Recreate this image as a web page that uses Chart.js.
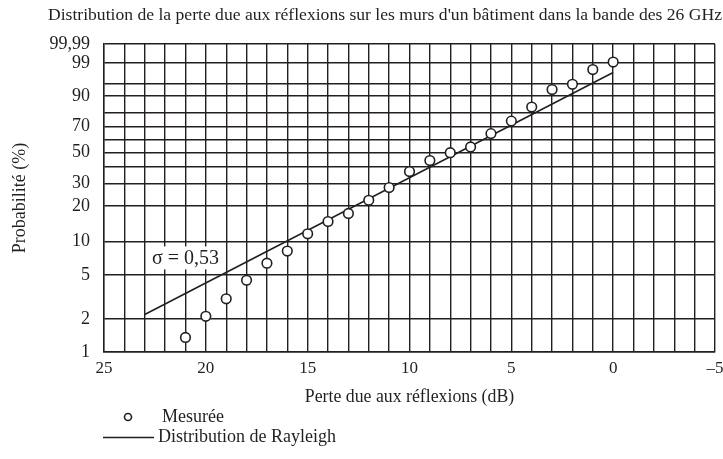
<!DOCTYPE html>
<html lang="fr">
<head>
<meta charset="utf-8">
<title>Perte due aux réflexions - 26 GHz</title>
<script src="https://cdn.jsdelivr.net/npm/chart.js@4.4.1/dist/chart.umd.min.js"></script>
<style>
  html, body { margin: 0; padding: 0; background: #fff; }
  #wrap { width: 723px; height: 459px; }
</style>
</head>
<body>
<div id="wrap"><canvas id="chart" width="723" height="459"></canvas></div>
<script>
// valeurs (perte en dB, probabilité en %)
const lossMeasured = [21, 20, 19, 18, 17, 16, 15, 14, 13, 12, 11, 10, 9, 8, 7, 6, 5, 4, 3, 2, 1, 0];
const probMeasured = [1.36, 2.12, 3.06, 4.5, 6.4, 8.2, 11.6, 14.8, 17.3, 22.2, 28.0, 37.0, 44.2, 49.8, 54.1, 64.4, 74.0, 83.7, 92.8, 94.7, 98.2, 99.1];

// droite de Rayleigh (deux extrémités)
const lossRayleigh = [23, 0];
const probRayleigh = [2.2, 97.7];

// graduations de l'axe des probabilités
const gridProbs = [1, 2, 5, 10, 20, 30, 40, 50, 60, 70, 80, 90, 95, 99, 99.9];
const labeledProbs = [1, 2, 5, 10, 20, 30, 50, 70, 90, 99, 99.9];
const probLabels = ['1', '2', '5', '10', '20', '30', '50', '70', '90', '99', '99,99'];

const sigmaText = 'σ = 0,53';
const sigmaAt = { loss: 21, prob: 7.2 };

const INK = '#231f20';
const FONT = "'Liberation Serif', 'Times New Roman', serif";

// papier de Rayleigh : log10(-ln(1 - p))
function rayleigh(p) {
  return Math.log10(-Math.log(1 - p / 100));
}

function toPoints(xs, ps) {
  return xs.map((x, i) => ({ x: x, y: rayleigh(ps[i]) }));
}

// étiquette sigma sur fond blanc
const sigmaPlugin = {
  id: 'sigmaLabel',
  beforeDatasetsDraw(chart) {
    const ctx = chart.ctx;
    const x = chart.scales.x.getPixelForValue(sigmaAt.loss);
    const y = chart.scales.y.getPixelForValue(rayleigh(sigmaAt.prob));
    ctx.save();
    ctx.font = '20px ' + FONT;
    const w = ctx.measureText(sigmaText).width;
    ctx.fillStyle = '#fff';
    ctx.fillRect(x - w / 2 - 4, y - 11, w + 8, 23);
    ctx.fillStyle = INK;
    ctx.textAlign = 'center';
    ctx.textBaseline = 'middle';
    ctx.fillText(sigmaText, x, y + 1);
    ctx.restore();
  }
};

// légende sous le graphique, une entrée par ligne
const legendPlugin = {
  id: 'stackedLegend',
  afterDraw(chart) {
    const ctx = chart.ctx;
    const ds = chart.data.datasets;
    ctx.save();
    ctx.font = '18px ' + FONT;
    ctx.fillStyle = INK;
    ctx.textBaseline = 'middle';
    // Mesurée
    ctx.beginPath();
    ctx.arc(128, 417, 3.5, 0, Math.PI * 2);
    ctx.lineWidth = 1.6;
    ctx.strokeStyle = INK;
    ctx.stroke();
    ctx.fillText(ds[0].label, 162, 417);
    // Rayleigh
    ctx.beginPath();
    ctx.moveTo(103, 437.5);
    ctx.lineTo(154, 437.5);
    ctx.lineWidth = 1.5;
    ctx.stroke();
    ctx.fillText(ds[1].label, 158, 437);
    ctx.restore();
  }
};

const ctx = document.getElementById('chart');
new Chart(ctx, {
  type: 'scatter',
  data: {
    datasets: [
      {
        label: 'Mesurée',
        data: toPoints(lossMeasured, probMeasured),
        showLine: false,
        pointStyle: 'circle',
        pointRadius: 4.8,
        pointBorderWidth: 1.6,
        pointBackgroundColor: '#fff',
        pointBorderColor: INK,
        order: 0,
      },
      {
        label: 'Distribution de Rayleigh',
        data: toPoints(lossRayleigh, probRayleigh),
        showLine: true,
        borderColor: INK,
        borderWidth: 1.6,
        pointRadius: 0,
        fill: false,
        order: 1,
      },
    ],
  },
  options: {
    responsive: false,
    animation: false,
    devicePixelRatio: 1,
    layout: { padding: { left: 0, right: 1, top: 0, bottom: 51 } },
    scales: {
      x: {
        type: 'linear',
        min: -5,
        max: 25,
        reverse: true,
        ticks: {
          stepSize: 1,
          autoSkip: false,
          maxRotation: 0,
          padding: 6,
          color: INK,
          font: { family: FONT, size: 17 },
          callback: (v) => (v % 5 === 0 ? (v < 0 ? '–' + (-v) : String(v)) : ''),
        },
        grid: { color: INK, lineWidth: 1.4, drawTicks: false },
        border: { color: INK, width: 1.4 },
        title: {
          display: true,
          text: 'Perte due aux réflexions (dB)',
          color: INK,
          font: { family: FONT, size: 17.8 },
          padding: { top: 0, bottom: 0 },
        },
        afterFit: (s) => {
          s.height = 56;
          s.paddingRight = 8;
        },
      },
      y: {
        type: 'linear',
        min: rayleigh(1),
        max: rayleigh(99.9),
        afterBuildTicks: (s) => {
          s.ticks = gridProbs.map((p) => ({ value: rayleigh(p) }));
        },
        ticks: {
          autoSkip: false,
          padding: 14,
          color: INK,
          font: { family: FONT, size: 18 },
          callback: (v, i) => {
            const k = labeledProbs.indexOf(gridProbs[i]);
            return k >= 0 ? probLabels[k] : '';
          },
        },
        grid: { color: INK, lineWidth: 1.4, drawTicks: false },
        border: { color: INK, width: 1.4 },
        title: {
          display: true,
          text: 'Probabilité (%)',
          color: INK,
          font: { family: FONT, size: 18 },
          padding: { top: 9, bottom: 0 },
        },
        afterFit: (s) => {
          s.width = 104;
        },
      },
    },
    plugins: {
      legend: { display: false },
      tooltip: { enabled: false },
      title: {
        display: true,
        text: "Distribution de la perte due aux réflexions sur les murs d'un bâtiment dans la bande des 26 GHz",
        align: 'end',
        color: INK,
        font: { family: FONT, size: 17.6, weight: 'normal' },
        padding: { top: 4.5, bottom: 18.4 },
      },
    },
  },
  plugins: [sigmaPlugin, legendPlugin],
});
</script>
</body>
</html>
